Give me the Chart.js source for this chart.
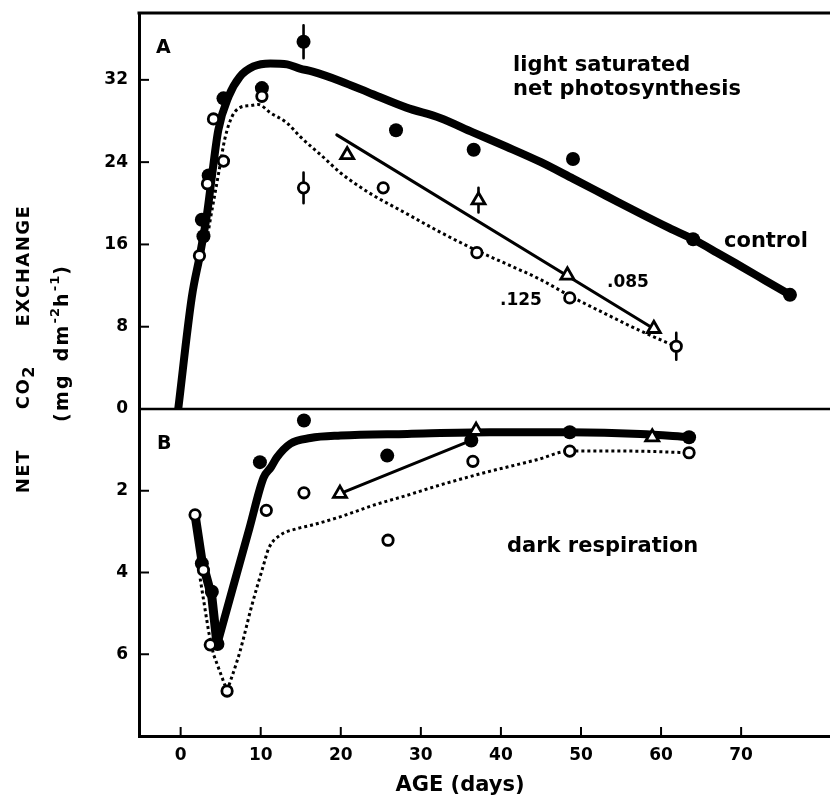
<!DOCTYPE html>
<html><head><meta charset="utf-8">
<script src="https://cdn.jsdelivr.net/npm/chart.js@4.4.1/dist/chart.umd.min.js"></script>
<style>html,body{margin:0;padding:0;background:#fff}#wrap{width:830px;height:800px;position:relative}</style>
</head><body><div id="wrap"><canvas id="c" width="830" height="800"></canvas></div>
<script>
// ---------- tick labels ----------
const xTicks = [0, 10, 20, 30, 40, 50, 60, 70];
const yATicks = [0, 8, 16, 24, 32];
const yBTicks = [2, 4, 6];

// ---------- Panel A : light saturated net photosynthesis ----------
const ctrlA_ptX = [2.65, 2.85, 3.5, 5.35, 10.15, 15.35, 26.9, 36.6, 49.0, 64.0, 76.1];
const ctrlA_ptY = [18.4, 16.8, 22.7, 30.2, 31.2, 35.7, 27.1, 25.2, 24.3, 16.5, 11.1];
const t125A_ptX = [2.35, 3.35, 4.1, 5.35, 10.15, 15.35, 25.3, 37.0, 48.6, 61.9];
const t125A_ptY = [14.9, 21.9, 28.2, 24.1, 30.4, 21.5, 21.5, 15.2, 10.8, 6.1];
const t085A_ptX = [20.8, 37.2, 48.3, 59.1];
const t085A_ptY = [24.7, 20.3, 13.0, 7.8];
// error bars (x, y, half-length)
const errA_x = [15.35, 15.35, 37.2, 61.9];
const errA_y = [35.7, 21.5, 20.3, 6.1];
const errA_e = [1.6, 1.5, 1.2, 1.3];
// fitted curves
const ctrlA_curveX = [-0.3, 1.4, 2.44, 3.3, 3.9, 4.7, 6.0, 7.4, 9.1, 11.2, 13.3, 14.9, 16.5, 19.9, 24.0, 28.2, 32.4, 36.5, 40.7, 45.0, 49.0, 53.2, 57.4, 61.0, 64.0, 67.0, 69.9, 73.0, 76.1];
const ctrlA_curveY = [0, 10.9, 15.1, 19.0, 22.6, 27.1, 30.4, 32.3, 33.3, 33.6, 33.5, 33.1, 32.8, 31.9, 30.6, 29.3, 28.3, 26.9, 25.5, 24.0, 22.4, 20.7, 19.0, 17.6, 16.5, 15.2, 13.9, 12.5, 11.1];
const t125A_curveX = [3.4, 3.7, 4.3, 4.9, 5.5, 6.4, 7.4, 8.7, 9.7, 11.2, 13.3, 14.9, 17.8, 19.9, 22.0, 24.0, 28.2, 32.4, 37.0, 40.7, 44.9, 48.6, 53.2, 57.4, 61.5];
const t125A_curveY = [17.0, 18.4, 21.0, 23.6, 26.2, 28.4, 29.3, 29.5, 29.6, 28.8, 27.8, 26.5, 24.5, 23.0, 21.8, 20.8, 19.0, 17.2, 15.4, 14.1, 12.6, 11.0, 9.2, 7.6, 6.2];
const t085A_lineX = [19.5, 59.3];
const t085A_lineY = [26.65, 7.7];

// ---------- Panel B : dark respiration ----------
const ctrlB_ptX = [2.65, 3.9, 4.6, 9.9, 15.4, 25.8, 36.3, 48.6, 63.5];
const ctrlB_ptY = [3.78, 4.47, 5.75, 1.3, 0.28, 1.14, 0.77, 0.57, 0.69];
const t125B_ptX = [1.8, 2.85, 3.7, 5.8, 10.7, 15.4, 25.9, 36.5, 48.6, 63.5];
const t125B_ptY = [2.59, 3.94, 5.77, 6.9, 2.48, 2.05, 3.21, 1.28, 1.03, 1.07];
const t085B_ptX = [19.9, 36.9, 58.9];
const t085B_ptY = [2.07, 0.53, 0.69];
const ctrlB_downX = [1.8, 2.65, 3.9, 4.55];
const ctrlB_downY = [2.59, 3.7, 4.6, 5.77];
const ctrlB_upX = [4.55, 6.5, 8.6, 10.35, 11.3, 12.0, 13.7, 16.2, 20.0, 28.3, 38.6, 48.6, 57.4, 63.5];
const ctrlB_upY = [5.77, 4.39, 2.91, 1.68, 1.42, 1.19, 0.85, 0.71, 0.65, 0.61, 0.57, 0.57, 0.61, 0.69];
const t125B_downX = [2.44, 3.5, 4.1, 5.8];
const t125B_downY = [4.15, 5.45, 6.0, 6.9];
const t125B_upX = [5.8, 7.4, 8.9, 10.35, 11.0, 12.4, 14.5, 16.2, 19.9, 24.0, 28.3, 32.4, 38.7, 40.8, 44.5, 48.6, 56.0, 63.5];
const t125B_upY = [6.9, 5.94, 4.8, 3.82, 3.41, 3.09, 2.93, 2.85, 2.64, 2.36, 2.11, 1.86, 1.52, 1.42, 1.24, 1.03, 1.03, 1.07];
const t085B_lineX = [19.9, 36.3];
const t085B_lineY = [2.07, 0.77];

// ---------- helpers ----------
const P = (xs, ys) => xs.map((x, i) => ({x: x, y: ys[i]}));
const errSegs = (xs, ys, es) => {
  const out = [];
  xs.forEach((x, i) => { out.push({x: x, y: ys[i] - es[i]}, {x: x, y: ys[i] + es[i]}, {x: x, y: null}); });
  return out;
};
const BLACK = '#000';
const FONT = '"DejaVu Sans", "Liberation Sans", sans-serif';

function curve(data, axis, width, dash, mono) {
  return {type: 'line', data: data, yAxisID: axis, borderColor: BLACK, borderWidth: width,
    borderDash: dash || [], pointRadius: 0, pointHoverRadius: 0, fill: false,
    cubicInterpolationMode: mono ? 'monotone' : 'default', tension: 0,
    borderCapStyle: dash ? 'butt' : 'round', borderJoinStyle: 'round', order: 10, spanGaps: false};
}
function marks(data, axis, style, radius, filled) {
  return {type: 'line', data: data, yAxisID: axis, showLine: false, pointStyle: style,
    pointRadius: radius, pointHoverRadius: radius,
    pointBackgroundColor: filled ? BLACK : '#fff', pointBorderColor: BLACK,
    pointBorderWidth: filled ? 0 : 2.8, order: filled ? 2 : 1};
}

const datasets = [
  curve(P(ctrlA_curveX, ctrlA_curveY), 'yA', 8, null, true),
  curve(P(t125A_curveX, t125A_curveY), 'yA', 3, [3, 3], true),
  curve(P(t085A_lineX, t085A_lineY), 'yA', 3, null, false),
  curve(errSegs(errA_x, errA_y, errA_e), 'yA', 2.6, null, false),
  marks(P(ctrlA_ptX, ctrlA_ptY), 'yA', 'circle', 7, true),
  marks(P(t125A_ptX, t125A_ptY), 'yA', 'circle', 5.2, false),
  marks(P(t085A_ptX, t085A_ptY), 'yA', 'triangle', 7.5, false),

  curve(P(ctrlB_downX, ctrlB_downY), 'yB', 9, null, false),
  curve(P(ctrlB_upX, ctrlB_upY), 'yB', 8, null, true),
  curve(P(t125B_downX, t125B_downY), 'yB', 3, [3, 3], false),
  curve(P(t125B_upX, t125B_upY), 'yB', 3, [3, 3], true),
  curve(P(t085B_lineX, t085B_lineY), 'yB', 3, null, false),
  marks(P(ctrlB_ptX, ctrlB_ptY), 'yB', 'circle', 7, true),
  marks(P(t125B_ptX, t125B_ptY), 'yB', 'circle', 5.2, false),
  marks(P(t085B_ptX, t085B_ptY), 'yB', 'triangle', 7.5, false)
];

const tickFont = {family: FONT, weight: 'bold', size: 17};

const decor = {
  id: 'decor',
  afterDraw(chart) {
    const ctx = chart.ctx, a = chart.chartArea;
    const sx = chart.scales.x, sA = chart.scales.yA, sB = chart.scales.yB;
    ctx.save();
    ctx.strokeStyle = BLACK; ctx.fillStyle = BLACK;
    // top frame line
    ctx.lineWidth = 3;
    ctx.beginPath(); ctx.moveTo(a.left - 1.5, a.top); ctx.lineTo(a.right, a.top); ctx.stroke();
    // divider at zero between the panels
    const y0 = sA.getPixelForValue(0);
    ctx.lineWidth = 2.5;
    ctx.beginPath(); ctx.moveTo(a.left, y0); ctx.lineTo(a.right, y0); ctx.stroke();
    // inward tick marks
    ctx.lineWidth = 2;
    yATicks.forEach(v => { const y = sA.getPixelForValue(v); ctx.beginPath(); ctx.moveTo(a.left, y); ctx.lineTo(a.left + 10, y); ctx.stroke(); });
    yBTicks.forEach(v => { const y = sB.getPixelForValue(v); ctx.beginPath(); ctx.moveTo(a.left, y); ctx.lineTo(a.left + 10, y); ctx.stroke(); });
    xTicks.forEach(v => { const x = sx.getPixelForValue(v); ctx.beginPath(); ctx.moveTo(x, a.bottom); ctx.lineTo(x, a.bottom - 9); ctx.stroke(); });

    // annotations
    ctx.textBaseline = 'middle'; ctx.textAlign = 'left';
    ctx.font = 'bold 21px ' + FONT;
    ctx.fillText('light saturated', 513, 66);
    ctx.fillText('net photosynthesis', 513, 90);
    ctx.fillText('control', 724, 242);
    ctx.fillText('dark respiration', 507, 547);
    ctx.font = 'bold 17px ' + FONT;
    ctx.fillText('.085', 607, 283);
    ctx.fillText('.125', 500, 301);
    ctx.font = 'bold 19px ' + FONT;
    ctx.fillText('A', 156, 48);
    ctx.fillText('B', 157, 444);

    // x axis title
    ctx.textAlign = 'center';
    ctx.font = 'bold 21px ' + FONT;
    ctx.fillText('AGE (days)', 460, 786);

    // y axis title (rotated)
    ctx.save();
    ctx.translate(24, 349); ctx.rotate(-Math.PI / 2);
    drawRich(ctx, [
      {t: 'NET', size: 18, ls: 1.5}, {gap: 40},
      {t: 'CO', size: 18, ls: 1.5}, {t: '2', size: 16, dy: 6},
      {gap: 40}, {t: 'EXCHANGE', size: 18, ls: 1.5}
    ], 0, 0);
    ctx.restore();
    ctx.save();
    ctx.translate(63, 344); ctx.rotate(-Math.PI / 2);
    drawRich(ctx, [
      {t: '(mg', size: 19, ls: 2.2}, {gap: 12}, {t: 'dm', size: 19, ls: 2.2},
      {t: '-2', size: 13, dy: -7, ls: 1}, {t: 'h', size: 19, ls: 2.2}, {t: '-1', size: 13, dy: -7, ls: 1},
      {t: ')', size: 19}
    ], 0, 0);
    ctx.restore();
    ctx.restore();
  }
};

function drawRich(ctx, segs, cx, cy) {
  ctx.textAlign = 'left'; ctx.textBaseline = 'middle';
  let total = 0;
  segs.forEach(s => {
    if (s.gap !== undefined) { s.w = s.gap; }
    else {
      ctx.font = 'bold ' + s.size + 'px ' + FONT;
      ctx.letterSpacing = (s.ls || 0) + 'px';
      s.w = ctx.measureText(s.t).width;
    }
    total += s.w;
  });
  let x = cx - total / 2;
  segs.forEach(s => {
    if (s.gap === undefined) {
      ctx.font = 'bold ' + s.size + 'px ' + FONT;
      ctx.letterSpacing = (s.ls || 0) + 'px';
      ctx.fillText(s.t, x, cy + (s.dy || 0));
    }
    x += s.w;
  });
  ctx.letterSpacing = '0px';
}

new Chart(document.getElementById('c'), {
  data: {datasets: datasets},
  options: {
    responsive: false, animation: false, devicePixelRatio: 1,
    layout: {autoPadding: false, padding: {top: 13, right: 0, left: 0, bottom: 0}},
    plugins: {legend: {display: false}, tooltip: {enabled: false}, title: {display: false}},
    scales: {
      x: {type: 'linear', position: 'bottom', min: -5.2, max: 81.1,
        afterBuildTicks: s => { s.ticks = xTicks.map(v => ({value: v})); },
        afterFit: s => { s.height = 64; s.paddingLeft = 0; s.paddingRight = 0; },
        grid: {display: false, drawTicks: false},
        border: {display: true, width: 3, color: BLACK},
        ticks: {font: tickFont, color: BLACK, padding: 9, maxRotation: 0, autoSkip: false}
      },
      yB: {type: 'linear', position: 'left', stack: 'panels', stackWeight: 327, min: 0, max: 8, reverse: true,
        afterBuildTicks: s => { s.ticks = yBTicks.map(v => ({value: v})); },
        afterFit: s => { s.width = 139; s.paddingTop = 0; s.paddingBottom = 0; },
        grid: {display: false, drawTicks: false},
        border: {display: true, width: 3, color: BLACK},
        ticks: {font: tickFont, color: BLACK, padding: 11, autoSkip: false}
      },
      yA: {type: 'linear', position: 'left', stack: 'panels', stackWeight: 396, min: 0, max: 38.5,
        afterBuildTicks: s => { s.ticks = yATicks.map(v => ({value: v})); },
        afterFit: s => { s.width = 139; s.paddingTop = 0; s.paddingBottom = 0; },
        grid: {display: false, drawTicks: false},
        border: {display: true, width: 3, color: BLACK},
        ticks: {font: tickFont, color: BLACK, padding: 11, autoSkip: false}
      }
    }
  },
  plugins: [decor]
});
</script></body></html>
